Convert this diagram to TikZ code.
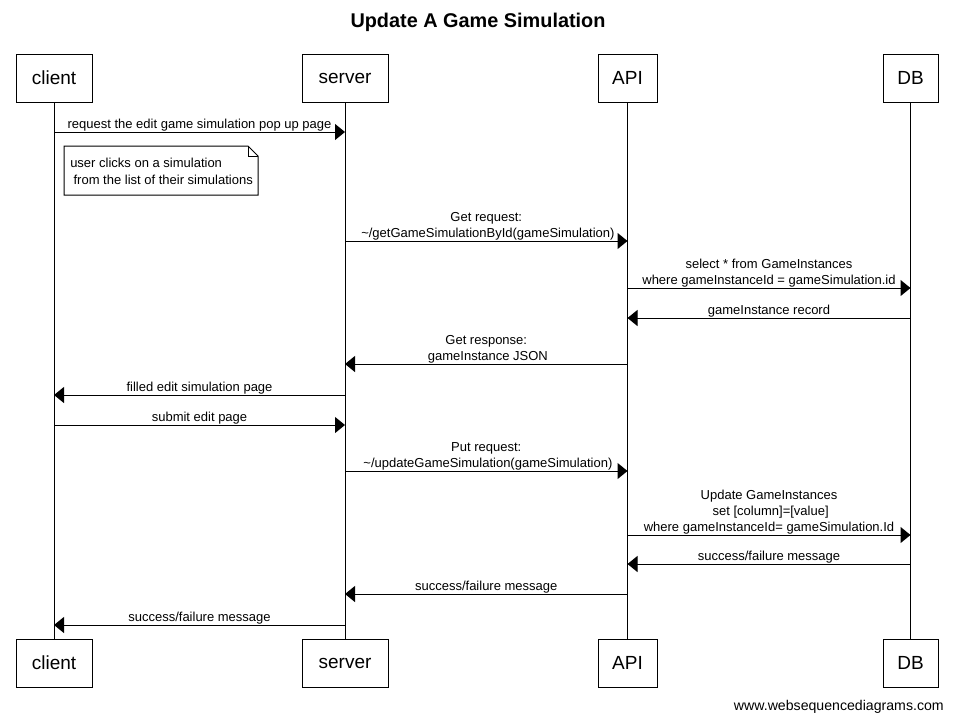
\documentclass[tikz,border=0pt]{standalone}
\usepackage{fontspec}
\setmainfont{Liberation Sans}
\usetikzlibrary{arrows.meta}

\tikzset{
  head/.style={draw, line width=0.75pt, minimum height=36pt, inner sep=0pt, font=\fontsize{14.25}{16}\selectfont},
  lifeline/.style={line width=0.75pt},
  msg/.style={line width=0.75pt, -{Triangle[length=7.5pt, width=12pt]}},
  lbl/.style={above, midway, inner sep=0.5pt, align=center, font=\fontsize{9.75}{12}\selectfont},
}

\begin{document}
\begin{tikzpicture}[x=0.75pt, y=-0.75pt]
            \useasboundingbox (0,0) rectangle (953,722);
            % Title
            \node[font=\bfseries\fontsize{14.9}{17}\selectfont] (title) at (478,22) {Update A Game Simulation};

            % Participants (top and bottom boxes)
            \node[head, minimum width=57pt] (client) at (54,78) {client};
            \node[head, minimum width=64.5pt] (server) at (345,78) {server};
            \node[head, minimum width=44.25pt] (API) at (627.5,78) {API};
            \node[head, minimum width=41.25pt] (DB) at (910.5,78) {DB};
            \node[head, minimum width=57pt] (client-end) at (54,663) {client};
            \node[head, minimum width=64.5pt] (server-end) at (345,663) {server};
            \node[head, minimum width=44.25pt] (API-end) at (627.5,663) {API};
            \node[head, minimum width=41.25pt] (DB-end) at (910.5,663) {DB};

            % Lifelines
            \foreach \p in {client,server,API,DB}
                \draw[lifeline] (\p) -- (\p-end);

            % Points on the lifelines, one row per message
            \foreach \n/\y in {1/132,2/241,3/288,4/318,5/364,6/395,7/425,8/471,9/535,10/564,11/594,12/625}
                \foreach \p in {client,server,API,DB}
                    \coordinate (\p-\n) at (\p |- 0,\y);

            % Messages
            \draw[msg] (client-1) -- node[lbl] {request the edit game simulation pop up page} (server-1);
            \draw[msg] (server-2) -- node[lbl] {Get request:\\\hspace*{2.5pt}\textasciitilde/getGameSimulationById(gameSimulation)} (API-2);
            \draw[msg] (API-3) -- node[lbl] {select * from GameInstances\\where gameInstanceId = gameSimulation.id} (DB-3);
            \draw[msg] (DB-4) -- node[lbl] {gameInstance record} (API-4);
            \draw[msg] (API-5) -- node[lbl] {Get response:\\\hspace*{2.5pt}gameInstance JSON} (server-5);
            \draw[msg] (server-6) -- node[lbl] {filled edit simulation page} (client-6);
            \draw[msg] (client-7) -- node[lbl] {submit edit page} (server-7);
            \draw[msg] (server-8) -- node[lbl] {Put request:\\\hspace*{2.5pt}\textasciitilde/updateGameSimulation(gameSimulation)} (API-8);
            \draw[msg] (API-9) -- node[lbl] {Update GameInstances\\\hspace*{2.5pt}set [column]=[value]\\where gameInstanceId= gameSimulation.Id} (DB-9);
            \draw[msg] (DB-10) -- node[lbl] {success/failure message} (API-10);
            \draw[msg] (API-11) -- node[lbl] {success/failure message} (server-11);
            \draw[msg] (server-12) -- node[lbl] {success/failure message} (client-12);

            % Note with folded corner
            \draw[fill=white, line width=0.75pt] (64,146) -- (248,146) -- (258,156) -- (258,195) -- (64,195) -- cycle;
            \draw[line width=0.75pt] (248,146) -- (248,156) -- (258,156);
            \node[anchor=west, align=left, inner sep=0pt, font=\fontsize{9.75}{12.75}\selectfont] (note) at (70,171.5) {user clicks on a simulation\\\hspace*{2.5pt}from the list of their simulations};

            % Footer
            \node[anchor=east, inner sep=0pt, font=\fontsize{10.6}{12}\selectfont] (credit) at (944,707) {www.websequencediagrams.com};
\end{tikzpicture}
\end{document}
